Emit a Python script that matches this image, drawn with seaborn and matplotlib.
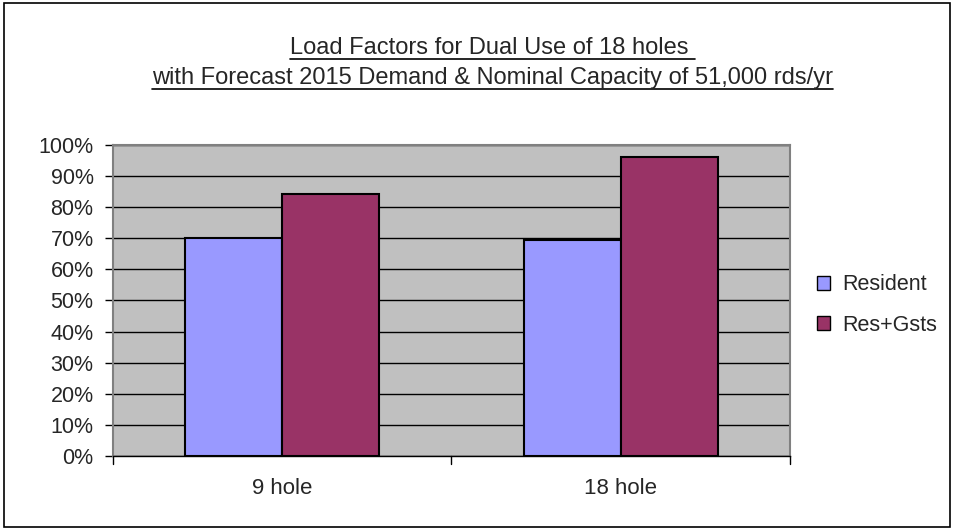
import pandas as pd
import matplotlib.pyplot as plt
import seaborn as sns
import numpy as np
from matplotlib.patches import Rectangle
from matplotlib.lines import Line2D

# Chart values
categories = ["9 hole", "18 hole"]
series_names = ["Resident", "Res+Gsts"]
resident = [70.0, 69.5]
res_gsts = [84.3, 96.0]
y_ticks = list(range(0, 101, 10))

df = pd.DataFrame({
    "category": categories * 2,
    "series": [series_names[0]] * 2 + [series_names[1]] * 2,
    "value": resident + res_gsts,
})

sns.set_style("white")
plt.rcParams["font.family"] = ["Liberation Sans", "DejaVu Sans"]

fig = plt.figure(figsize=(9.54, 5.29), dpi=100)
ax = fig.add_axes([0.1185, 0.138, 0.7095, 0.588])

palette = {"Resident": "#9999FF", "Res+Gsts": "#993366"}
sns.barplot(data=df, x="category", y="value", hue="series", order=categories,
            hue_order=series_names, palette=palette, width=0.574, gap=0,
            edgecolor="black", linewidth=1.5, saturation=1, ax=ax, zorder=3)

ax.set_facecolor("#C0C0C0")
ax.set_ylim(0, 100)
ax.set_xlim(-0.5, 1.5)
ax.set_yticks(y_ticks)
ax.set_yticklabels([f"{t}%" for t in y_ticks], fontsize=15.5)
ax.yaxis.grid(True, color="black", linewidth=1)
ax.set_axisbelow(True)
ax.set_xlabel("")
ax.set_ylabel("")

# category labels and the between-category ticks
ax.set_xticks([0, 1])
ax.set_xticklabels(categories, fontsize=16)
ax.tick_params(axis="x", length=0, pad=16)
ax.tick_params(axis="y", length=6, width=1, color="black", direction="out", left=True, pad=8)
for xb in [-0.5, 0.5, 1.5]:
    ax.plot([xb, xb], [0, -0.025], transform=ax.get_xaxis_transform(),
            color="black", linewidth=1, clip_on=False)

for side in ["top", "right", "left"]:
    ax.spines[side].set_color("#808080")
    ax.spines[side].set_linewidth(1.5)
ax.spines["bottom"].set_color("black")
ax.spines["bottom"].set_linewidth(1)

handles = [Rectangle((0, 0), 1, 1, facecolor=palette[s], edgecolor="black", linewidth=1)
           for s in series_names]
ax.legend(handles, series_names, loc="center left", bbox_to_anchor=(1.012, 0.485),
          frameon=False, fontsize=15.5, handlelength=0.6, handleheight=0.6,
          handletextpad=0.55, labelspacing=0.9)

# underlined two-line title
title_lines = ["Load Factors for Dual Use of 18 holes ",
               "with Forecast 2015 Demand & Nominal Capacity of 51,000 rds/yr"]
fig.canvas.draw()
renderer = fig.canvas.get_renderer()
for yy, line in zip([0.898, 0.841], title_lines):
    t = fig.text(0.516, yy, line, ha="center", va="baseline", fontsize=17)
    bb = t.get_window_extent(renderer=renderer).transformed(fig.transFigure.inverted())
    fig.add_artist(Line2D([bb.x0, bb.x1], [yy - 0.009, yy - 0.009],
                          transform=fig.transFigure, color="black", linewidth=1.2))

# outer chart border
fig.add_artist(Rectangle((0.004, 0.004), 0.992, 0.99, transform=fig.transFigure,
                         fill=False, edgecolor="black", linewidth=1.2))

fig.savefig("out.png", dpi=100)
